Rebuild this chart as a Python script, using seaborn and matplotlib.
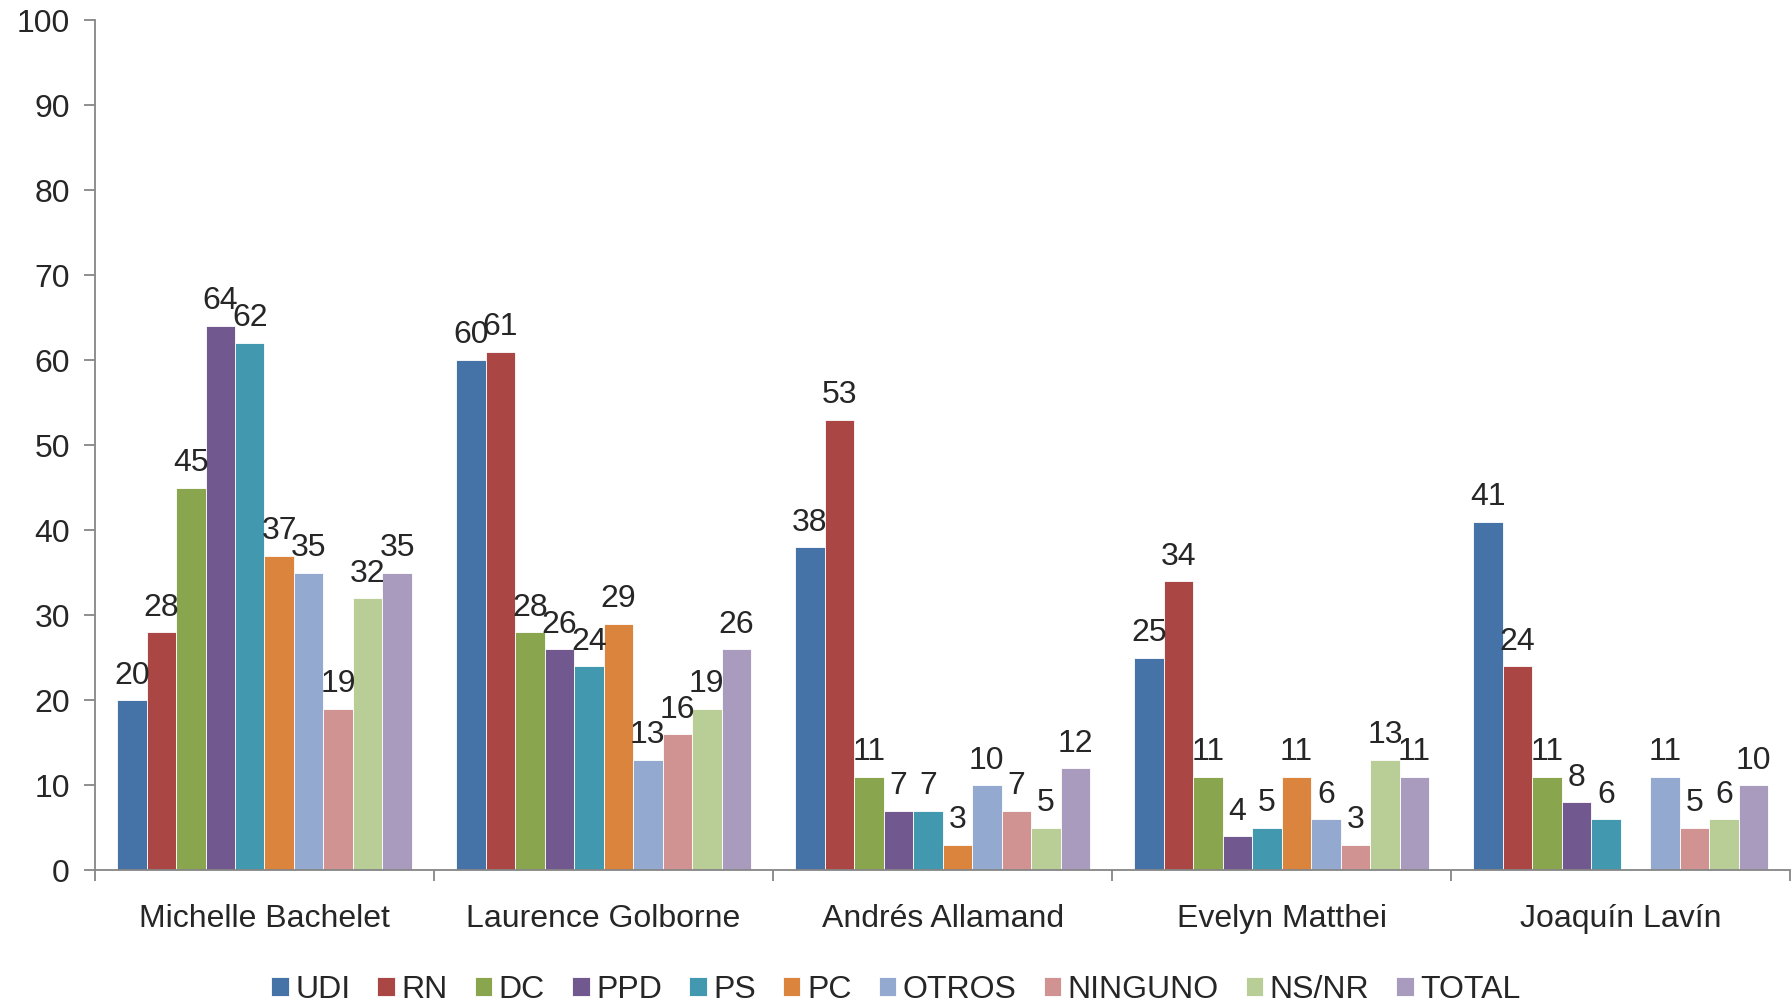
import numpy as np
import pandas as pd
import matplotlib
matplotlib.use('Agg')
import matplotlib.pyplot as plt
import seaborn as sns

# Candidates and party groups
candidatos = ['Michelle Bachelet', 'Laurence Golborne', 'Andrés Allamand',
              'Evelyn Matthei', 'Joaquín Lavín']
grupos = ['UDI', 'RN', 'DC', 'PPD', 'PS', 'PC', 'OTROS', 'NINGUNO', 'NS/NR', 'TOTAL']

# Values per group (one per candidate); Lavín has no PC bar
udi = [20, 60, 38, 25, 41]
rn = [28, 61, 53, 34, 24]
dc = [45, 28, 11, 11, 11]
ppd = [64, 26, 7, 4, 8]
ps = [62, 24, 7, 5, 6]
pc = [37, 29, 3, 11, np.nan]
otros = [35, 13, 10, 6, 11]
ninguno = [19, 16, 7, 3, 5]
nsnr = [32, 19, 5, 13, 6]
total = [35, 26, 12, 11, 10]

colores = ['#4572A7', '#AA4643', '#89A54E', '#71588F', '#4198AF',
           '#DB843D', '#93A9CF', '#D19392', '#B9CD96', '#A99BBD']

series = [udi, rn, dc, ppd, ps, pc, otros, ninguno, nsnr, total]
rows = []
for g, vals in zip(grupos, series):
    for c, v in zip(candidatos, vals):
        rows.append({'candidato': c, 'grupo': g, 'valor': v})
df = pd.DataFrame(rows).dropna()

sns.set_style('white')
plt.rcParams['font.family'] = ['Liberation Sans', 'DejaVu Sans']

fig, ax = plt.subplots(figsize=(17.92, 10.05), dpi=100)
fig.subplots_adjust(left=0.053, right=0.999, top=0.98, bottom=0.134)

sns.barplot(data=df, x='candidato', y='valor', hue='grupo',
            order=candidatos, hue_order=grupos, palette=colores,
            saturation=1, width=0.87, edgecolor='white', linewidth=0.6, ax=ax)

# value labels above the bars
for container in ax.containers:
    ax.bar_label(container, fmt='%d', padding=7, fontsize=23)

ax.set_ylim(0, 100)
ax.set_xlim(-0.5, 4.5)
ax.set_yticks(range(0, 101, 10))
ax.set_xlabel('')
ax.set_ylabel('')

ax.spines['top'].set_visible(False)
ax.spines['right'].set_visible(False)
for s in ['left', 'bottom']:
    ax.spines[s].set_color('#868686')
    ax.spines[s].set_linewidth(1.3)

ax.tick_params(axis='y', labelsize=23, length=8, width=1.3, color='#868686',
               direction='out', left=True, pad=10)
ax.tick_params(axis='x', which='major', labelsize=23, length=0, pad=24)
ax.set_xticks(np.arange(-0.5, 4.6, 1), minor=True)
ax.tick_params(axis='x', which='minor', length=8, width=1.3, color='#868686',
               direction='out', bottom=True)

ax.legend(loc='upper center', bbox_to_anchor=(0.4725, -0.108), ncol=10,
          frameon=False, fontsize=23, handlelength=0.55, handleheight=0.55,
          handletextpad=0.2, columnspacing=0.85, borderaxespad=0)

plt.savefig('out.png', dpi=100)
